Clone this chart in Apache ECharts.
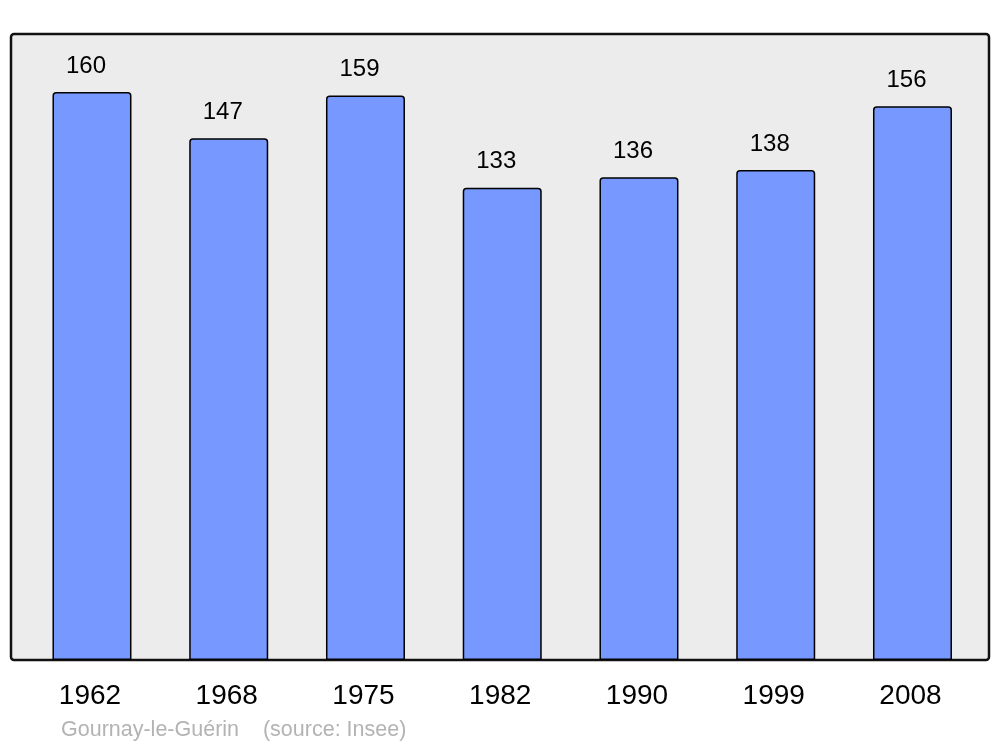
<!DOCTYPE html>
<html>
<head>
<meta charset="utf-8">
<script src="https://cdn.jsdelivr.net/npm/echarts@6/dist/echarts.min.js"></script>
<style>html,body{margin:0;padding:0;background:#fff}#c{width:1000px;height:747px}</style>
</head>
<body>
<div id="c"></div>
<script>
const years = ['1962', '1968', '1975', '1982', '1990', '1999', '2008'];
const population = [160, 147, 159, 133, 136, 138, 156];
const footer = 'Gournay-le-Guérin    (source: Insee)';

const chart = echarts.init(document.getElementById('c'), null, {renderer: 'canvas'});
chart.setOption({
  animation: false,
  backgroundColor: '#ffffff',
  textStyle: {fontFamily: 'Liberation Sans, Arial, sans-serif'},
  title: {
    text: footer,
    left: 61, top: 719, padding: 0,
    textStyle: {color: '#b3b3b3', fontSize: 21.5, fontWeight: 'normal', fontFamily: 'Liberation Sans, Arial, sans-serif'}
  },
  graphic: [{
    type: 'rect', z: -10, silent: true,
    shape: {x: 11, y: 34, width: 978, height: 626, r: 3},
    style: {fill: '#ececec', stroke: '#111111', lineWidth: 2.5}
  }],
  grid: {left: 23.6, right: 19.15, top: 34, bottom: 87},
  xAxis: {
    type: 'category', data: years,
    axisLine: {show: false}, axisTick: {show: false},
    axisLabel: {color: '#000', fontSize: 28, margin: 22, padding: [0, 4, 0, 0], fontFamily: 'Liberation Sans, Arial, sans-serif'}
  },
  yAxis: {
    type: 'value', min: 0, max: 176.34,
    show: false, splitLine: {show: false}
  },
  series: [{
    type: 'bar', data: population, barWidth: 79,
    itemStyle: {color: '#7799ff', borderColor: '#000', borderWidth: 1.5, borderRadius: [3, 3, 0, 0]},
    label: {show: true, position: 'top', distance: 14, offset: [-6, 0], color: '#000', fontSize: 24, fontFamily: 'Liberation Sans, Arial, sans-serif'}
  }]
});
</script>
</body>
</html>
